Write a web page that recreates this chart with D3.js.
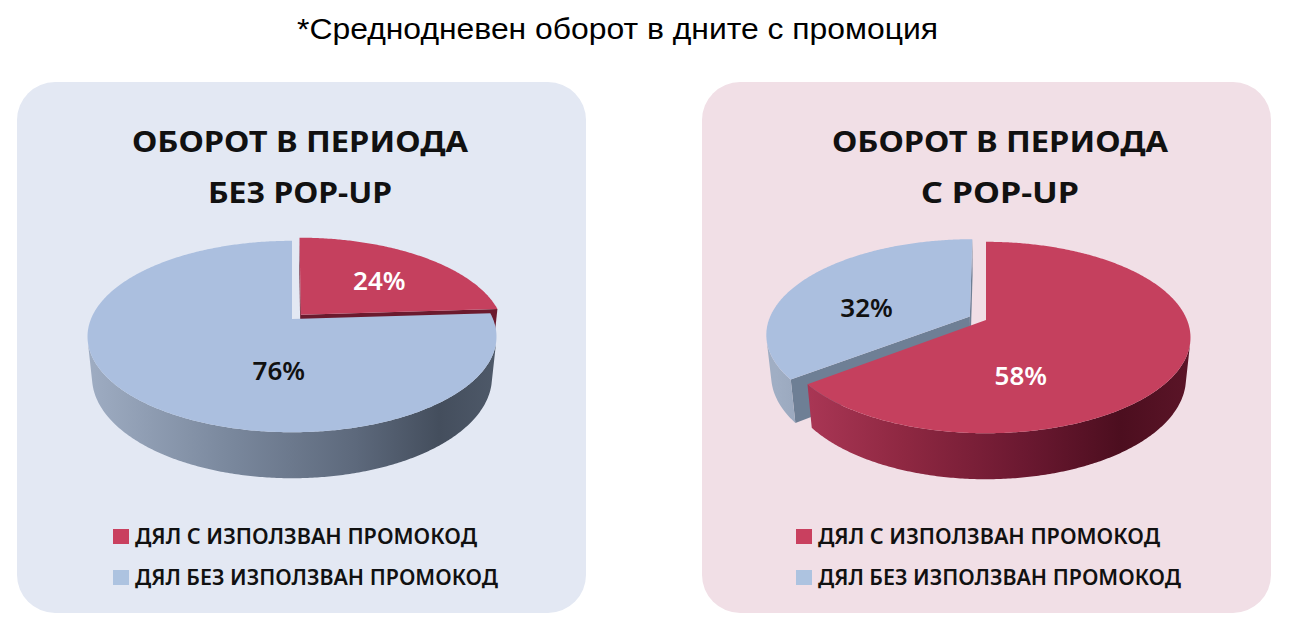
<!DOCTYPE html>
<html lang="bg">
<head>
<meta charset="utf-8">
<title>Оборот в периода</title>
<script src="https://cdn.jsdelivr.net/npm/d3@7"></script>
<style>
  body { margin: 0; background: #fff; }
  svg { display: block; }
  .head { font-family: "Noto Sans", sans-serif; font-weight: 700; fill: #111; }
  .legend { font-family: "Noto Sans", sans-serif; font-weight: 600; fill: #111; }
  .pct { font-family: "Noto Sans", sans-serif; font-weight: 600; }
</style>
</head>
<body>
<script>
var width = 1289, height = 632;

// data
var pageTitle = "*Среднодневен оборот в дните с промоция";
var categories = ["ДЯЛ С ИЗПОЛЗВАН ПРОМОКОД", "ДЯЛ БЕЗ ИЗПОЛЗВАН ПРОМОКОД"];
var valuesWithout = [24, 76];
var valuesWith = [58, 32];
var titlesWithout = ["ОБОРОТ В ПЕРИОДА", "БЕЗ POP-UP"];
var titlesWith = ["ОБОРОТ В ПЕРИОДА", "С POP-UP"];

// look
var topColor = ["#c5405e", "#abbfdf"];
var cutColor = ["#6b1a2e", "#6e7f95"];
var labelColor = ["#fff", "#111"];
var wallStops = [
  [[0, "#b23b5b"], [0.3, "#8f2842"], [0.6, "#6a1830"], [0.82, "#4c0e1f"], [1, "#5c1528"]],
  [[0, "#a0aec4"], [0.35, "#7a889d"], [0.65, "#5d697c"], [0.85, "#444e5d"], [1, "#4f5a6a"]]
];

var panels = [
  { x: 17, bg: "#e3e8f3", cx: 292, cy: 319, titleX: 300, values: valuesWithout, titles: titlesWithout, explode: [0.065, 0], legendX: 113 },
  { x: 702, bg: "#f1dfe6", cx: 986, cy: 320, titleX: 1000, values: valuesWith, titles: titlesWith, explode: [0, 0.09], legendX: 796 }
];

// simple perspective camera for the 3d pie (radius = 1)
var tilt = 27.4 * Math.PI / 180, camL = 4.85, focal = 975, depthH = 0.23;
var cosT = Math.cos(tilt), sinT = Math.sin(tilt);

function project(cx, cy, X, Y, Z) {
  var d = camL + Y * cosT - Z * sinT;
  return [cx + focal * X / d, cy - focal * (Y * sinT + Z * cosT) / d];
}

var svg = d3.select("body").append("svg")
  .attr("width", width)
  .attr("height", height);

var defs = svg.append("defs");

svg.append("text")
  .attr("x", 297)
  .attr("y", 39)
  .attr("textLength", 641)
  .attr("lengthAdjust", "spacingAndGlyphs")
  .style("font-family", "'Liberation Sans', Arial, sans-serif")
  .style("font-size", "30px")
  .style("fill", "#000")
  .text(pageTitle);

var pie = d3.pie().sort(null).startAngle(0).endAngle(2 * Math.PI);
var line = d3.line();

panels.forEach(function(p, pi) {
  var g = svg.append("g");

  g.append("rect")
    .attr("x", p.x).attr("y", 82)
    .attr("width", 569).attr("height", 531)
    .attr("rx", 38)
    .attr("fill", p.bg);

  g.selectAll("text.head")
    .data(p.titles)
    .enter().append("text")
    .attr("class", "head")
    .attr("x", p.titleX)
    .attr("y", function(d, i) { return 152 + i * 51; })
    .attr("text-anchor", "middle")
    .attr("textLength", function(d, i) { return i == 0 ? 336 : (pi == 0 ? 184 : 158); })
    .attr("lengthAdjust", "spacingAndGlyphs")
    .style("font-size", "29px")
    .text(function(d) { return d; });

  // gradients for the outer walls
  wallStops.forEach(function(stops, ci) {
    var lg = defs.append("linearGradient")
      .attr("id", "wall" + pi + "_" + ci)
      .attr("gradientUnits", "userSpaceOnUse")
      .attr("x1", p.cx - 210).attr("x2", p.cx + 210)
      .attr("y1", 0).attr("y2", 0);
    lg.selectAll("stop").data(stops).enter().append("stop")
      .attr("offset", function(d) { return d[0]; })
      .attr("stop-color", function(d) { return d[1]; });
  });

  var arcs = pie(p.values);
  arcs.forEach(function(a, i) {
    a.cat = i;
    a.mid = (a.startAngle + a.endAngle) / 2;
    var e = p.explode[i];
    a.ox = e * Math.sin(a.mid);
    a.oy = e * Math.cos(a.mid);
  });

  // back slices first
  var order = arcs.slice().sort(function(a, b) { return Math.cos(b.mid) - Math.cos(a.mid); });

  var pieG = g.append("g");
  var P = function(X, Y, Z) { return project(p.cx, p.cy, X, Y, Z); };

  order.forEach(function(a) {
    var sg = pieG.append("g");
    var steps = Math.max(8, Math.ceil((a.endAngle - a.startAngle) / 0.01));
    var thetas = d3.range(steps + 1).map(function(k) {
      return a.startAngle + (a.endAngle - a.startAngle) * k / steps;
    });

    // radial cut faces
    [[a.startAngle, -1], [a.endAngle, 1]].forEach(function(f) {
      var ang = f[0];
      var nx = f[1] * Math.cos(ang), ny = -f[1] * Math.sin(ang);
      var vis = nx * (-a.ox) + ny * (-camL * cosT - a.oy);
      if (vis <= 1e-6) return;
      var rx = a.ox + Math.sin(ang), ry = a.oy + Math.cos(ang);
      var quad = [P(a.ox, a.oy, 0), P(rx, ry, 0), P(rx, ry, -depthH), P(a.ox, a.oy, -depthH)];
      sg.append("path")
        .attr("d", line(quad) + "Z")
        .attr("fill", cutColor[a.cat]);
    });

    // outer wall, only the part that faces the camera
    var runs = [], cur = null;
    thetas.forEach(function(t) {
      var v = -1 - a.ox * Math.sin(t) - (camL * cosT + a.oy) * Math.cos(t);
      if (v > 0) {
        if (!cur) { cur = []; runs.push(cur); }
        cur.push(t);
      } else cur = null;
    });
    a.wallPolys = [];
    runs.forEach(function(run) {
      if (run.length < 2) return;
      var topPts = run.map(function(t) { return P(a.ox + Math.sin(t), a.oy + Math.cos(t), 0); });
      var botPts = run.map(function(t) { return P(a.ox + Math.sin(t), a.oy + Math.cos(t), -depthH); }).reverse();
      var poly = topPts.concat(botPts);
      a.wallPolys.push(poly);
      sg.append("path")
        .attr("d", line(poly) + "Z")
        .attr("fill", "url(#wall" + pi + "_" + a.cat + ")");
    });

    // top face
    var top = [P(a.ox, a.oy, 0)].concat(thetas.map(function(t) {
      return P(a.ox + Math.sin(t), a.oy + Math.cos(t), 0);
    }));
    a.topPoly = top;
    sg.append("path")
      .attr("d", line(top) + "Z")
      .attr("fill", topColor[a.cat]);
  });

  // labels at the centroid of what is visible of each slice
  arcs.forEach(function(a) {
    var polys = [a.topPoly].concat(a.wallPolys);
    var sx = 0, sy = 0, sa = 0;
    polys.forEach(function(poly) {
      var ar = Math.abs(d3.polygonArea(poly)), c = d3.polygonCentroid(poly);
      sx += c[0] * ar; sy += c[1] * ar; sa += ar;
    });
    pieG.append("text")
      .attr("class", "pct")
      .attr("x", sx / sa)
      .attr("y", sy / sa)
      .attr("dy", "0.35em")
      .attr("text-anchor", "middle")
      .style("font-size", "26px")
      .style("fill", labelColor[a.cat])
      .text(a.data + "%");
  });

  // legend
  var lg = g.selectAll("g.leg")
    .data(categories)
    .enter().append("g")
    .attr("class", "leg")
    .attr("transform", function(d, i) { return "translate(" + p.legendX + "," + (544 + i * 41) + ")"; });

  lg.append("rect")
    .attr("x", 0).attr("y", -15)
    .attr("width", 16).attr("height", 15)
    .attr("fill", function(d, i) { return i == 0 ? "#c9405f" : "#adc3e0"; });

  lg.append("text")
    .attr("class", "legend")
    .attr("x", 22)
    .attr("y", 0)
    .attr("textLength", function(d, i) { return i == 0 ? 342 : 363; })
    .attr("lengthAdjust", "spacingAndGlyphs")
    .style("font-size", "21px")
    .text(function(d) { return d; });
});
</script>
</body>
</html>
